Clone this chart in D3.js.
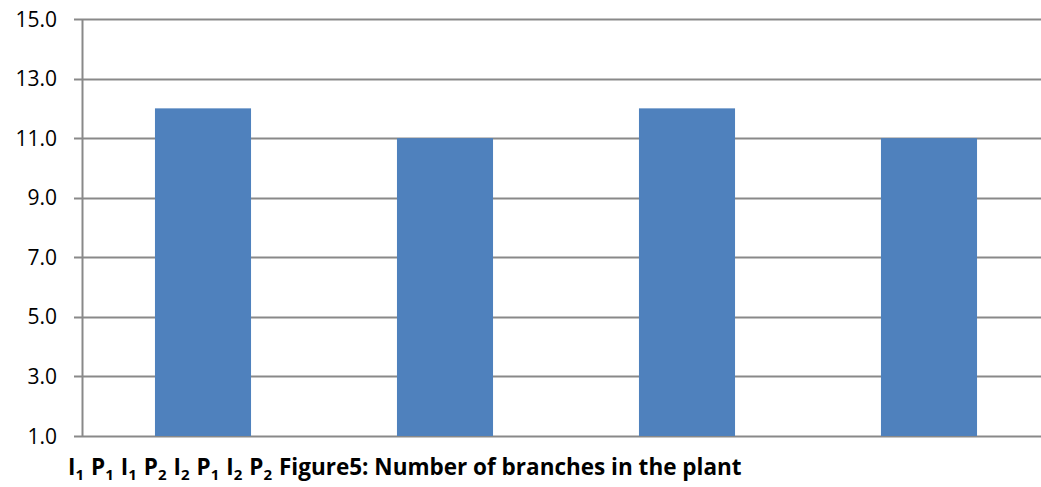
<!DOCTYPE html>
<html>
<head>
<meta charset="utf-8">
<script src="https://cdn.jsdelivr.net/npm/d3@7"></script>
<style>
  html, body { margin: 0; padding: 0; background: #fff; overflow: hidden; }
  svg { display: block; }
</style>
</head>
<body>
<svg id="chart" width="1041" height="487"></svg>
<script>
// Treatment groups and number of branches per plant
const categories = ["I1 P1", "I1 P2", "I2 P1", "I2 P2"];
const branches = [12.0, 11.0, 12.0, 11.0];
const yTicks = [1, 3, 5, 7, 9, 11, 13, 15];
// Caption line: treatment labels (letter + subscript) followed by the figure title
const captionParts = [["I", "1"], ["P", "1"], ["I", "1"], ["P", "2"], ["I", "2"], ["P", "1"], ["I", "2"], ["P", "2"]];
const figureTitle = "Figure5: Number of branches in the plant";

const svg = d3.select("#chart");
const W = 1041, H = 487;
const plotLeft = 82, plotRight = 1050, plotTop = 19, plotBottom = 436;

const x = d3.scaleBand()
  .domain(categories)
  .range([plotLeft, plotRight])
  .paddingInner(0.603)
  .paddingOuter(0.3015);

const y = d3.scaleLinear()
  .domain([1, 15])
  .range([plotBottom, plotTop]);

const gridColor = "#898989";

// Horizontal gridlines (with small outward tick on the left)
svg.append("g")
  .selectAll("line")
  .data(yTicks)
  .join("line")
  .attr("x1", plotLeft - 8)
  .attr("x2", W)
  .attr("y1", d => Math.round(y(d)) + 0.5)
  .attr("y2", d => Math.round(y(d)) + 0.5)
  .attr("stroke", gridColor)
  .attr("stroke-width", 2);

// Bars
svg.append("g")
  .selectAll("rect")
  .data(categories.map((c, i) => ({ c, v: branches[i] })))
  .join("rect")
  .attr("x", d => x(d.c))
  .attr("width", x.bandwidth())
  .attr("y", d => y(d.v))
  .attr("height", d => y(1) - y(d.v))
  .attr("fill", "#4f81bd");

// Vertical axis line
svg.append("line")
  .attr("x1", plotLeft + 0.5).attr("x2", plotLeft + 0.5)
  .attr("y1", y(15)).attr("y2", y(1) + 1)
  .attr("stroke", gridColor)
  .attr("stroke-width", 2);

// Y tick labels
svg.append("g")
  .selectAll("text")
  .data(yTicks)
  .join("text")
  .attr("x", 57)
  .attr("y", d => y(d))
  .attr("dy", "0.36em")
  .attr("text-anchor", "end")
  .attr("font-family", "'Open Sans', Lato, sans-serif")
  .attr("font-size", 21)
  .attr("fill", "#000")
  .text(d => d3.format(".1f")(d));

// Caption line below the plot, laid out piece by piece
const capFont = "'Open Sans', Lato, sans-serif";
const capG = svg.append("g")
  .attr("font-family", capFont)
  .attr("font-weight", "bold")
  .attr("fill", "#000");
const baseY = 475;
let cx = 68;
function put(str, size, yy) {
  const t = capG.append("text").attr("x", cx).attr("y", yy).attr("font-size", size).text(str);
  cx += t.node().getComputedTextLength();
  return t;
}
captionParts.forEach(p => {
  put(p[0], 22.5, baseY);
  put(p[1], 15, baseY + 5);
  cx += 7;
});
put(figureTitle, 22.5, baseY);
</script>
</body>
</html>
